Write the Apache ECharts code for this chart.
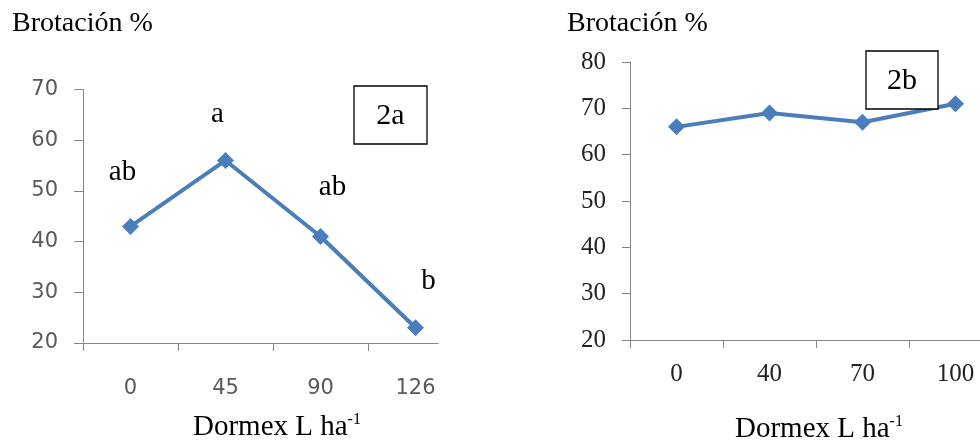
<!DOCTYPE html>
<html><head><meta charset="utf-8">
<script src="https://cdn.jsdelivr.net/npm/echarts@6/dist/echarts.min.js"></script>
<style>html,body{margin:0;padding:0;background:#fff}#c{width:980px;height:448px}</style>
</head><body><div id="c"></div>
<script>
// Chart 2a
const catsA = ['0', '45', '90', '126'];
const valsA = [43, 56, 41, 23];
const lettersA = ['ab', 'a', 'ab', 'b'];
const yTicksA = { min: 20, max: 70, interval: 10 };
// Chart 2b
const catsB = ['0', '40', '70', '100'];
const valsB = [66, 69, 67, 71];
const yTicksB = { min: 20, max: 80, interval: 10 };

const letterOffsets = [[-8, -54], [-8, -46], [12, -49], [13, -46]];
const blue = '#4A7EBB';
const serif = '"Liberation Serif","Times New Roman",serif';
const sans = '"DejaVu Sans","Noto Sans",sans-serif';

const chart = echarts.init(document.getElementById('c'), null, {renderer: 'canvas'});
const axisLine = {show: true, lineStyle: {color: '#868686', width: 1}};

chart.setOption({
  animation: false,
  grid: [
    {left: 83, top: 89.5, width: 380, height: 253.5, containLabel: false, outerBoundsMode: 'none'},
    {left: 630, top: 62, width: 372, height: 278, containLabel: false, outerBoundsMode: 'none'}
  ],
  xAxis: [
    {gridIndex: 0, type: 'category', data: catsA, boundaryGap: true,
     axisLine: axisLine, axisTick: {show: true, length: 8, lineStyle: {color: '#868686'}},
     axisLabel: {margin: 35, fontFamily: sans, fontSize: 21, color: '#595959'}},
    {gridIndex: 1, type: 'category', data: catsB, boundaryGap: true,
     axisLine: axisLine, axisTick: {show: true, length: 8, lineStyle: {color: '#868686'}},
     axisLabel: {margin: 22, fontFamily: serif, fontSize: 25, color: '#222'}}
  ],
  yAxis: [
    {gridIndex: 0, type: 'value', min: yTicksA.min, max: yTicksA.max, interval: yTicksA.interval,
     axisLine: axisLine, axisTick: {show: true, length: 9, lineStyle: {color: '#868686'}},
     splitLine: {show: false},
     axisLabel: {margin: 25, fontFamily: sans, fontSize: 21, color: '#595959'}},
    {gridIndex: 1, type: 'value', min: yTicksB.min, max: yTicksB.max, interval: yTicksB.interval,
     axisLine: axisLine, axisTick: {show: true, length: 8, lineStyle: {color: '#868686'}},
     splitLine: {show: false},
     axisLabel: {margin: 24, fontFamily: serif, fontSize: 25, color: '#222'}}
  ],
  series: [
    {type: 'line', xAxisIndex: 0, yAxisIndex: 0,
     data: valsA.map((v, i) => ({value: v, label: {show: true, formatter: lettersA[i], offset: letterOffsets[i]}})),
     symbol: 'diamond', symbolSize: 17,
     lineStyle: {color: blue, width: 4}, itemStyle: {color: blue},
     label: {position: 'inside', fontFamily: serif, fontSize: 29, color: '#000'}},
    {type: 'line', xAxisIndex: 1, yAxisIndex: 1, data: valsB,
     symbol: 'diamond', symbolSize: 17,
     lineStyle: {color: blue, width: 4}, itemStyle: {color: blue}, z: 2}
  ],
  graphic: [
    // the left x axis line ends at 437 in the reference: cover the overflow part
    {type: 'rect', shape: {x: 438.5, y: 336, width: 40, height: 20}, style: {fill: '#fff'}, z: 20, silent: true},
    {type: 'text', left: 12, top: 10, style: {text: 'Brotación %', font: '28px ' + serif, fill: '#000'}},
    {type: 'text', left: 567, top: 10, style: {text: 'Brotación %', font: '28px ' + serif, fill: '#000'}},
    {type: 'rect', shape: {x: 354, y: 86, width: 73, height: 58}, style: {fill: '#fff', stroke: '#000', lineWidth: 1.3}, z: 10},
    {type: 'text', x: 390.5, y: 116, style: {text: '2a', font: '30px ' + serif, fill: '#000', align: 'center', verticalAlign: 'middle'}, z: 11},
    {type: 'rect', shape: {x: 866, y: 51, width: 72, height: 58}, style: {fill: '#fff', stroke: '#000', lineWidth: 1.3}, z: 10},
    {type: 'text', x: 902, y: 81, style: {text: '2b', font: '30px ' + serif, fill: '#000', align: 'center', verticalAlign: 'middle'}, z: 11},
    {type: 'text', x: 193, y: 442, style: {
      text: '{m|Dormex L ha}{s|-1}', verticalAlign: 'bottom',
      rich: {m: {fontFamily: serif, fontSize: 29, color: '#000'}, s: {fontFamily: serif, fontSize: 16, color: '#000', verticalAlign: 'top', padding: [0, 0, 14, 0]}}}},
    {type: 'text', x: 735, y: 444, style: {
      text: '{m|Dormex L ha}{s|-1}', verticalAlign: 'bottom',
      rich: {m: {fontFamily: serif, fontSize: 29, color: '#000'}, s: {fontFamily: serif, fontSize: 16, color: '#000', verticalAlign: 'top', padding: [0, 0, 14, 0]}}}}
  ]
});
</script>
</body></html>
